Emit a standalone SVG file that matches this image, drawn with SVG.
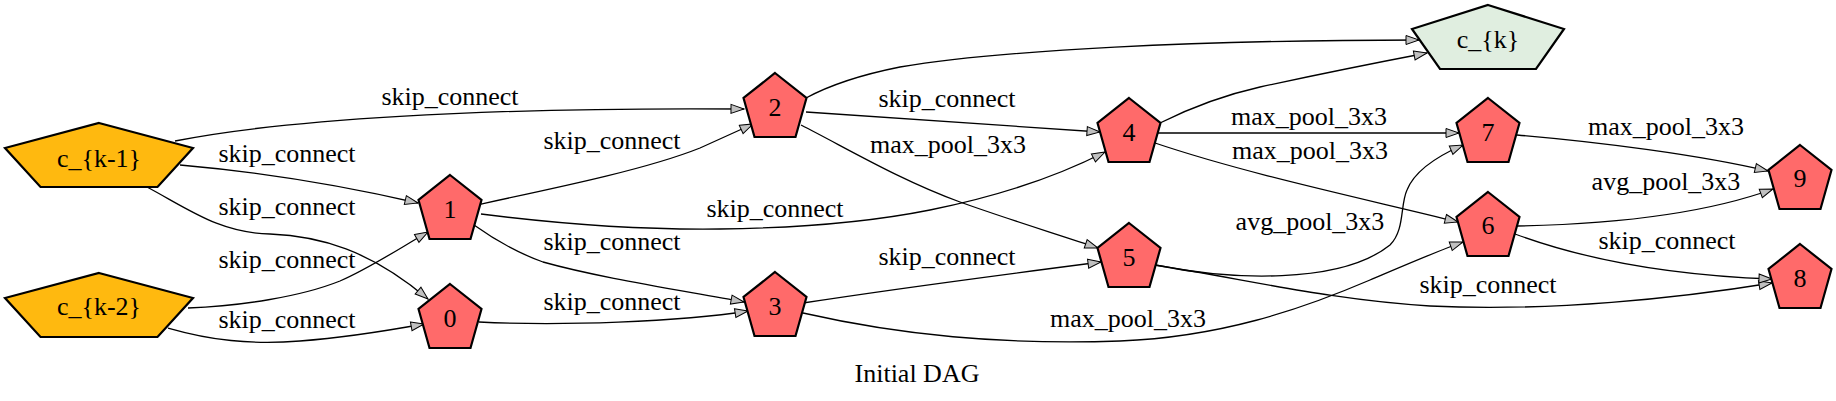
<svg xmlns="http://www.w3.org/2000/svg" width="1836" height="401" viewBox="0 0 1836 401">
<style>
text{font-family:"Liberation Serif","Times New Roman",serif;font-size:26px;fill:#000;text-anchor:middle}
.e{fill:none;stroke:#000;stroke-width:1.3;marker-end:url(#ah)}
.op{fill:#FFB90F;stroke:#000;stroke-width:2.2}
.rd{fill:#FF6A6A;stroke:#000;stroke-width:2.2}
.gr{fill:#E0EEE0;stroke:#000;stroke-width:2.2}
</style>
<defs>
<marker id="ah" markerUnits="userSpaceOnUse" viewBox="-1 -1 16 12" markerWidth="16" markerHeight="12" refX="13" refY="4.5" orient="auto" overflow="visible">
<path d="M0,0 L13,4.5 L0,9 Z" fill="#C0C0C0" stroke="#000" stroke-width="1"/>
</marker>
<polygon id="rp" points="0,0 31.5,25 20.5,64 -20.5,64 -31.5,25"/>
</defs>
<rect width="1836" height="401" fill="#fff"/>
<g id="edges">
<path class="e" d="M175,141 C280,120 480,107 744,109"/>
<text x="450" y="105">skip_connect</text>
<path class="e" d="M180,165 C260,172 340,185 418,203"/>
<text x="287" y="162">skip_connect</text>
<path class="e" d="M147,187 C190,210 220,233 270,234 C320,236 370,250 428,299"/>
<text x="287" y="215">skip_connect</text>
<path class="e" d="M188,308 C240,306 300,297 340,281 C370,268 400,248 428,232"/>
<text x="287" y="268">skip_connect</text>
<path class="e" d="M168,328 C210,340 250,345 300,341 C340,338 380,332 424,324"/>
<text x="287" y="328">skip_connect</text>
<path class="e" d="M481,204 C570,185 650,168 700,148 C720,139 740,130 753,124"/>
<text x="612" y="149">skip_connect</text>
<path class="e" d="M481,214 C560,224 640,230 720,229 C800,228 870,222 930,210 C990,198 1050,180 1105,152"/>
<text x="775" y="217">skip_connect</text>
<path class="e" d="M474,225 C495,240 515,252 543,262 C600,278 680,290 744,302"/>
<text x="612" y="250">skip_connect</text>
<path class="e" d="M479,322 C560,326 680,322 748,311"/>
<text x="612" y="310">skip_connect</text>
<path class="e" d="M806,112 C900,118 1000,125 1100,132"/>
<text x="947" y="107">skip_connect</text>
<path class="e" d="M801,125 C850,150 900,180 960,202 C1010,220 1060,235 1098,248"/>
<text x="948" y="153">max_pool_3x3</text>
<path class="e" d="M806,98 C830,85 860,75 900,67 C1000,50 1200,40 1419,40"/>
<path class="e" d="M1160,123 C1190,108 1220,96 1260,87 C1320,74 1380,62 1427,53"/>
<path class="e" d="M1156,133 L1459,133"/>
<text x="1309" y="125">max_pool_3x3</text>
<path class="e" d="M1155,143 C1250,175 1370,200 1458,222"/>
<text x="1310" y="159">max_pool_3x3</text>
<path class="e" d="M1517,135 C1600,142 1700,155 1768,171"/>
<text x="1666" y="135">max_pool_3x3</text>
<path class="e" d="M1155,265 C1230,280 1340,285 1390,245 C1405,230 1400,205 1407,190 C1415,170 1440,155 1463,145"/>
<text x="1310" y="230">avg_pool_3x3</text>
<path class="e" d="M1155,265 C1250,280 1330,300 1430,306 C1550,312 1680,298 1772,283"/>
<text x="1488" y="293">skip_connect</text>
<path class="e" d="M803,313 C900,335 1000,345 1120,341 C1220,337 1300,310 1370,280 C1410,263 1440,250 1463,242"/>
<text x="1128" y="327">max_pool_3x3</text>
<path class="e" d="M803,303 C900,288 1000,275 1101,262"/>
<text x="947" y="265">skip_connect</text>
<path class="e" d="M1517,226 C1620,224 1710,212 1773,189"/>
<text x="1666" y="190">avg_pool_3x3</text>
<path class="e" d="M1515,234 C1580,258 1660,275 1772,279"/>
<text x="1667" y="249">skip_connect</text>
</g>
<g id="node-ck1"><polygon class="op" points="99,123 193,148 157.5,187 40.5,187 5,148"/><text x="99" y="167">c_{k-1}</text></g>
<g id="node-ck2"><polygon class="op" points="99,273 193,298 157.5,337 40.5,337 5,298"/><text x="99" y="315">c_{k-2}</text></g>
<g id="node-ck"><polygon class="gr" points="1488,5 1564,29 1536,69 1440,69 1412,29"/><text x="1488" y="48">c_{k}</text></g>
<g id="node-0"><use href="#rp" class="rd" x="450" y="284"/><text x="450" y="327">0</text></g>
<g id="node-1"><use href="#rp" class="rd" x="450" y="175"/><text x="450" y="218">1</text></g>
<g id="node-2"><use href="#rp" class="rd" x="775" y="73"/><text x="775" y="116">2</text></g>
<g id="node-3"><use href="#rp" class="rd" x="775" y="272"/><text x="775" y="315">3</text></g>
<g id="node-4"><use href="#rp" class="rd" x="1129" y="98"/><text x="1129" y="141">4</text></g>
<g id="node-5"><use href="#rp" class="rd" x="1129" y="223"/><text x="1129" y="266">5</text></g>
<g id="node-6"><use href="#rp" class="rd" x="1488" y="192"/><text x="1488" y="234">6</text></g>
<g id="node-7"><use href="#rp" class="rd" x="1488" y="98"/><text x="1488" y="141">7</text></g>
<g id="node-8"><use href="#rp" class="rd" x="1800" y="244"/><text x="1800" y="287">8</text></g>
<g id="node-9"><use href="#rp" class="rd" x="1800" y="145"/><text x="1800" y="187">9</text></g>
<text x="917" y="382">Initial DAG</text>
</svg>
